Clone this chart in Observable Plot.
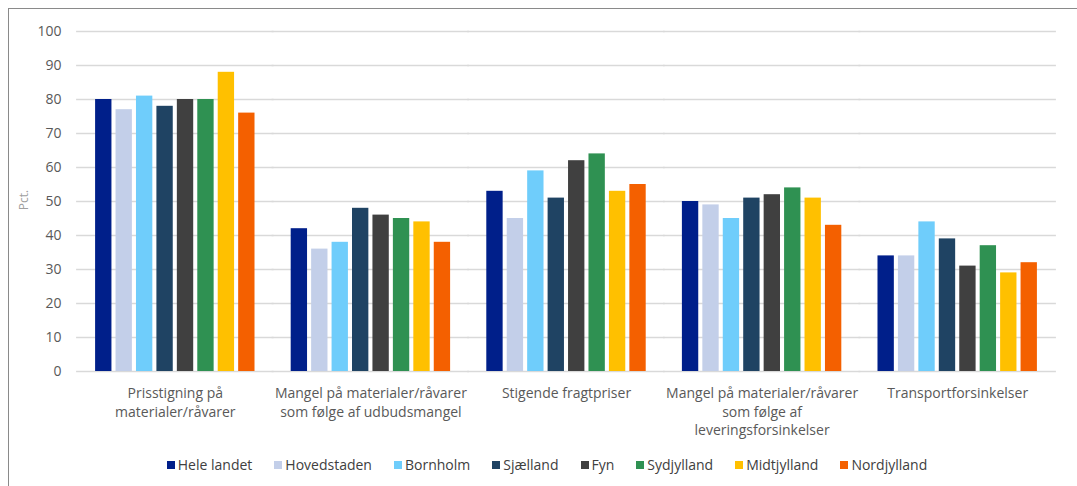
<!DOCTYPE html>
<html>
<head>
<meta charset="utf-8">
<script src="https://cdn.jsdelivr.net/npm/d3@7"></script>
<script src="https://cdn.jsdelivr.net/npm/@observablehq/plot@0.6"></script>
<style>
  html, body { margin: 0; padding: 0; background: #fff; }
  body { width: 1077px; height: 486px; position: relative; overflow: hidden; font-family: "Open Sans", "Noto Sans", sans-serif; }
  #frame { position: absolute; left: 8px; top: 8px; width: 1200px; height: 600px; border-left: 1.5px solid #8a8a8a; border-top: 1.5px solid #8a8a8a; }
  #chart { position: absolute; left: 0; top: 0; }
  #ylabel { position: absolute; left: 23px; top: 200px; transform: translate(-50%, -50%) rotate(-90deg); color: #a0a0a0; font-size: 12px; white-space: nowrap; }
  #legend { position: absolute; left: 0; width: 1094px; top: 455px; display: flex; justify-content: center; gap: 22px; font-size: 14px; color: #404040; }
  .item { display: flex; align-items: center; gap: 3px; white-space: nowrap; }
  .sw { width: 8px; height: 8px; display: inline-block; }
</style>
</head>
<body>
<div id="frame"></div>
<div id="chart"></div>
<div id="ylabel">Pct.</div>
<div id="legend"></div>
<script>
const categories = [
  "Prisstigning på materialer/råvarer",
  "Mangel på materialer/råvarer som følge af udbudsmangel",
  "Stigende fragtpriser",
  "Mangel på materialer/råvarer som følge af leveringsforsinkelser",
  "Transportforsinkelser"
];
const categoryLabels = [
  "Prisstigning på\nmaterialer/råvarer",
  "Mangel på materialer/råvarer\nsom følge af udbudsmangel",
  "Stigende fragtpriser",
  "Mangel på materialer/råvarer\nsom følge af\nleveringsforsinkelser",
  "Transportforsinkelser"
];
const regions = ["Hele landet", "Hovedstaden", "Bornholm", "Sjælland", "Fyn", "Sydjylland", "Midtjylland", "Nordjylland"];
const regionColors = ["#001f8a", "#c3cfe9", "#6fcdfb", "#1f4363", "#404040", "#2f9152", "#ffc000", "#f46000"];

const prisstigning = [80, 77, 81, 78, 80, 80, 88, 76];
const udbudsmangel = [42, 36, 38, 48, 46, 45, 44, 38];
const fragtpriser = [53, 45, 59, 51, 62, 64, 53, 55];
const leveringsforsinkelser = [50, 49, 45, 51, 52, 54, 51, 43];
const transportforsinkelser = [34, 34, 44, 39, 31, 37, 29, 32];
const yTicks = [0, 10, 20, 30, 40, 50, 60, 70, 80, 90, 100];

const seriesByCategory = [prisstigning, udbudsmangel, fragtpriser, leveringsforsinkelser, transportforsinkelser];
const data = [];
categories.forEach((c, i) => {
  regions.forEach((r, j) => data.push({category: c, region: r, value: seriesByCategory[i][j]}));
});
const labelOf = new Map(categories.map((c, i) => [c, categoryLabels[i]]));

const plot = Plot.plot({
  width: 1077,
  height: 450,
  marginTop: 31,
  marginLeft: 77,
  marginRight: 22,
  marginBottom: 79,
  style: {fontFamily: "'Open Sans', 'Noto Sans', sans-serif", fontSize: "14px", color: "#595959", background: "transparent"},
  fx: {domain: categories, paddingInner: 0.185, paddingOuter: 0.0925, round: false, label: null, axis: null},
  x: {domain: regions, paddingInner: 0.2, paddingOuter: 0, round: false, axis: null},
  y: {domain: [0, 100], ticks: yTicks, tickSize: 0, tickPadding: 34, label: null},
  color: {domain: regions, range: regionColors},
  marks: [
    Plot.ruleY(yTicks, {y: d => d, stroke: "#d9d9d9", strokeWidth: 1.5, insetLeft: -19, insetRight: -19}),
    Plot.barY(data, {fx: "category", x: "region", y: "value", fill: "region"}),
    Plot.axisFx({anchor: "bottom", tickSize: 0, tickPadding: 14, lineHeight: 1.3, fontSize: 14, fill: "#595959", tickFormat: d => labelOf.get(d), label: null})
  ]
});
document.getElementById("chart").appendChild(plot);

const legend = document.getElementById("legend");
regions.forEach((r, i) => {
  const item = document.createElement("div");
  item.className = "item";
  const sw = document.createElement("span");
  sw.className = "sw";
  sw.style.background = regionColors[i];
  const t = document.createElement("span");
  t.textContent = r;
  item.appendChild(sw);
  item.appendChild(t);
  legend.appendChild(item);
});
</script>
</body>
</html>
